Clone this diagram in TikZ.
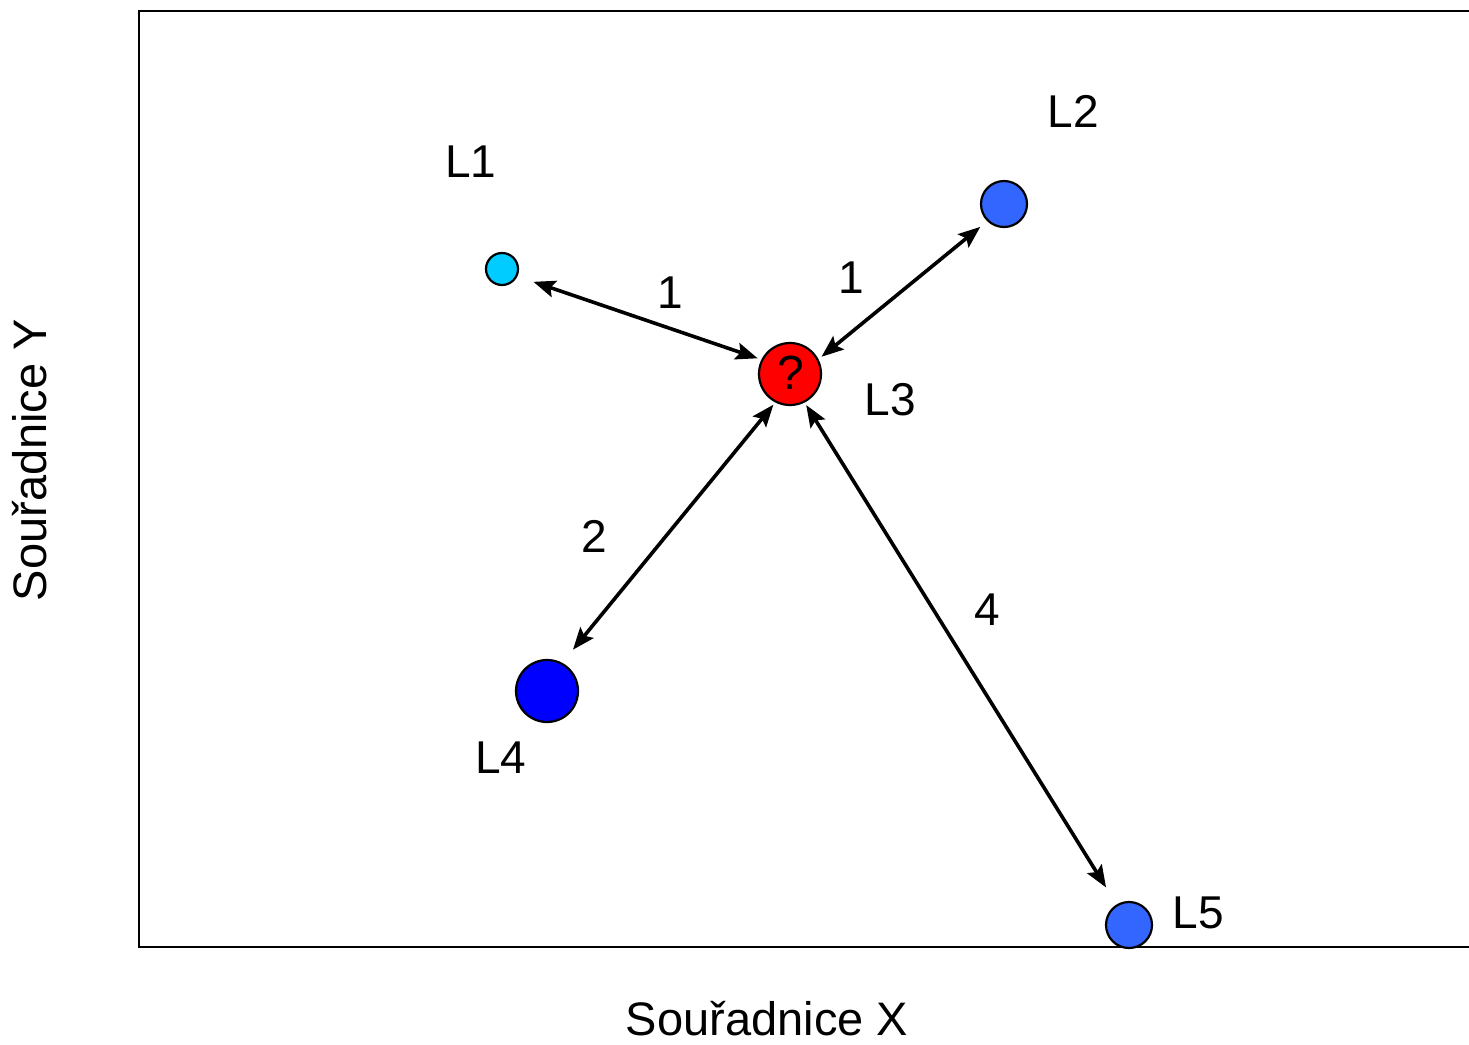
\documentclass[tikz,border=0pt]{standalone}
\usepackage{fontspec}
\setmainfont{Liberation Sans}
\usetikzlibrary{arrows.meta}
\definecolor{cyanball}{RGB}{0,204,255}
\definecolor{midblue}{RGB}{51,102,255}
\definecolor{deepblue}{RGB}{0,0,255}
\begin{document}
\begin{tikzpicture}[x=1pt,y=-1pt,
  ball/.style={circle,draw=black,line width=2.2pt,inner sep=0pt,outer sep=0pt},
  lbl/.style={font=\fontsize{46}{50}\selectfont,inner sep=0pt},
  conn/.style={line width=3.6pt,{Stealth[length=22pt,width=17pt,inset=4pt]}-{Stealth[length=22pt,width=17pt,inset=4pt]}}]
\useasboundingbox (0,0) rectangle (1469,1044);
\coordinate (tr) at (1469,11);
\coordinate (tl) at (139,11);
\coordinate (bl) at (139,947);
\coordinate (br) at (1469,947);
\draw[line width=2.2pt] (tr) -- (tl) -- (bl) -- (br);

\node[ball,fill=cyanball,minimum size=32pt] (L1) at (502,269) {};
\node[ball,fill=midblue,minimum size=46pt] (L2) at (1004,204) {};
\node[ball,fill=red,minimum size=62pt] (L3) at (790,374) {};
\node[lbl,font=\fontsize{48}{50}\selectfont] (q) at (791,373) {?};
\node[ball,fill=deepblue,minimum size=62pt] (L4) at (547,691) {};
\node[ball,fill=midblue,minimum size=46pt] (L5) at (1129,925) {};

\node[lbl] (t1) at (471,162) {L1};
\node[lbl] (t2) at (1073,111) {L2};
\node[lbl] (t3) at (890,400) {L3};
\node[lbl] (t4) at (501,758) {L4};
\node[lbl] (t5) at (1198,913) {L5};

\draw[conn,shorten <=18pt,shorten >=5pt] (L1.-26) -- (L3.153);
\draw[conn,shorten <=10pt,shorten >=5pt] (L2.226) -- (L3.27);
\draw[conn,shorten <=18pt,shorten >=4pt] (L4.62) -- (L3.-117);
\draw[conn,shorten <=21pt,shorten >=4pt] (L5.121) -- (L3.-63);

\node[lbl] (d1) at (670,293) {1};
\node[lbl] (d2) at (851,278) {1};
\node[lbl] (d3) at (594,536) {2};
\node[lbl] (d4) at (987,610) {4};

\node[lbl,font=\fontsize{47}{50}\selectfont] (ax) at (767,1019) {Souřadnice X};
\node[lbl,font=\fontsize{47}{50}\selectfont,rotate=90] (ay) at (30,460) {Souřadnice Y};
\end{tikzpicture}
\end{document}
